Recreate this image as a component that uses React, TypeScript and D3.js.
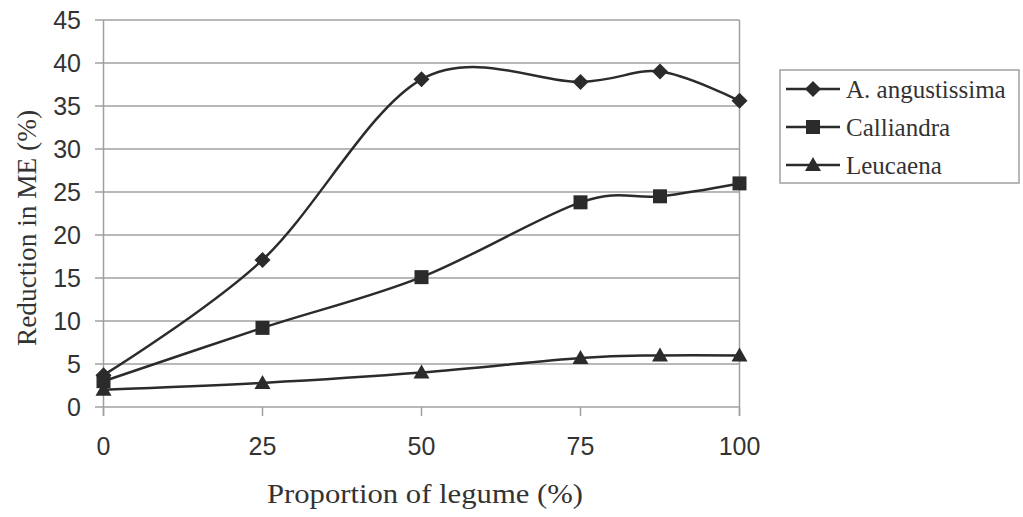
import React from "react";
import * as d3 from "d3";

const proportions = [0, 25, 50, 75, 87.5, 100];
const angustissima = [3.7, 17.1, 38.1, 37.8, 39.0, 35.6];
const calliandra = [3.0, 9.2, 15.1, 23.8, 24.5, 26.0];
const leucaena = [2.0, 2.8, 4.0, 5.7, 6.0, 6.0];
const seriesNames = ["A. angustissima", "Calliandra", "Leucaena"];
const xTicks = [0, 25, 50, 75, 100];
const yTicks = [0, 5, 10, 15, 20, 25, 30, 35, 40, 45];

const W = 1023, H = 517;
const x = d3.scaleLinear().domain([0, 100]).range([103.5, 739.5]);
const y = d3.scaleLinear().domain([0, 45]).range([407, 20]);
const ink = "#2b2b2b";
const grid = "#a0a0a0";
const serif = "Liberation Serif, Times New Roman, serif";
const sans = "Liberation Sans, Arial, sans-serif";

function Marker({ kind, cx, cy }: { kind: string; cx: number; cy: number }) {
  if (kind === "diamond") {
    const s = 8;
    return <path d={`M${cx},${cy - s}L${cx + s},${cy}L${cx},${cy + s}L${cx - s},${cy}Z`} fill={ink} />;
  }
  if (kind === "square") {
    const s = 7;
    return <rect x={cx - s} y={cy - s} width={2 * s} height={2 * s} fill={ink} />;
  }
  const s = 8;
  return <path d={`M${cx},${cy - s}L${cx + s},${cy + 6}L${cx - s},${cy + 6}Z`} fill={ink} />;
}

export default function App() {
  const data = [angustissima, calliandra, leucaena];
  const kinds = ["diamond", "square", "triangle"];
  const line = d3
    .line<number>()
    .x((_, i) => x(proportions[i]))
    .y((v) => y(v))
    .curve(d3.curveCatmullRom.alpha(0));
  return (
    <svg width={W} height={H} style={{ position: "absolute", left: 0, top: 0, background: "#fff" }}>
      {yTicks.map((t) => (
        <g key={t}>
          <line x1={95} x2={x(100)} y1={y(t)} y2={y(t)} stroke={grid} strokeWidth={1.5} />
          <text x={81} y={y(t)} dy="0.36em" textAnchor="end" fontFamily={sans} fontSize={25} fill="#333">
            {t}
          </text>
        </g>
      ))}
      <line x1={x(0)} x2={x(0)} y1={y(45)} y2={416} stroke={grid} strokeWidth={1.5} />
      <line x1={x(100)} x2={x(100)} y1={y(45)} y2={416} stroke={grid} strokeWidth={1.5} />
      {xTicks.map((t) => (
        <g key={t}>
          <line x1={x(t)} x2={x(t)} y1={y(0)} y2={416} stroke={grid} strokeWidth={1.5} />
          <text x={x(t)} y={455} textAnchor="middle" fontFamily={sans} fontSize={25} fill="#333">
            {t}
          </text>
        </g>
      ))}
      {data.map((d, si) => (
        <g key={si}>
          <path d={line(d) || ""} fill="none" stroke={ink} strokeWidth={2.5} />
          {d.map((v, i) => (
            <Marker key={i} kind={kinds[si]} cx={x(proportions[i])} cy={y(v)} />
          ))}
        </g>
      ))}
      <text
        transform={`translate(27,${228}) rotate(-90)`}
        textAnchor="middle"
        dy="0.35em"
        fontFamily={serif}
        fontSize={27}
        textLength={236}
        lengthAdjust="spacingAndGlyphs"
        fill="#333"
      >
        Reduction in ME (%)
      </text>
      <text
        x={425}
        y={503}
        textAnchor="middle"
        fontFamily={serif}
        fontSize={28}
        textLength={316}
        lengthAdjust="spacingAndGlyphs"
        fill="#333"
      >
        Proportion of legume (%)
      </text>
      <rect x={780} y={70} width={239} height={113} fill="#fff" stroke={grid} strokeWidth={1.5} />
      {seriesNames.map((n, i) => {
        const cy = 89 + i * 38;
        return (
          <g key={n}>
            <line x1={786} x2={840} y1={cy} y2={cy} stroke={ink} strokeWidth={2.5} />
            <Marker kind={kinds[i]} cx={813} cy={cy} />
            <text x={846} y={cy} dy="0.35em" fontFamily={serif} fontSize={25} fill="#333">
              {n}
            </text>
          </g>
        );
      })}
    </svg>
  );
}
